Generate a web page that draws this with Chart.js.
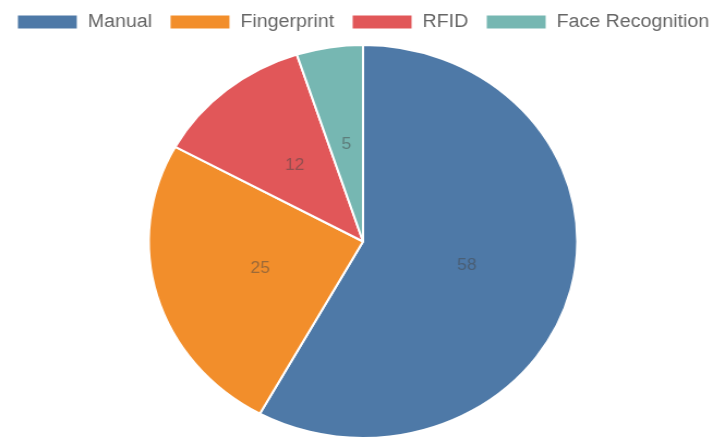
<!DOCTYPE html>
<html>
<head>
<meta charset="utf-8">
<script src="https://cdn.jsdelivr.net/npm/chart.js@4"></script>
<style>
  html, body { margin: 0; padding: 0; background: #fff; }
  #myChart { display: block; }
</style>
</head>
<body>
<canvas id="myChart" width="654" height="440" style="width:713px;height:440px"></canvas>
<script>
const methods = ['Manual', 'Fingerprint', 'RFID', 'Face Recognition'];
const shares = [58, 25, 12, 5];
const colors = ['#4e79a7', '#f28e2b', '#e15759', '#76b7b2'];

// nudge the pie a little to the right and the legend a little up
const nudge = {
  id: 'nudge',
  afterLayout(chart) {
    chart.chartArea.left += 6;
    chart.chartArea.right += 6;
    chart.legend.top -= 3;
    chart.legend.bottom -= 3;
  }
};

// values drawn in the middle of each slice
const sliceLabels = {
  id: 'sliceLabels',
  afterDatasetsDraw(chart) {
    const ctx = chart.ctx;
    const meta = chart.getDatasetMeta(0);
    ctx.save();
    ctx.font = '16px "Liberation Sans", Arial, sans-serif';
    ctx.fillStyle = 'rgba(70,70,70,0.5)';
    ctx.textAlign = 'center';
    ctx.textBaseline = 'middle';
    meta.data.forEach((arc, i) => {
      const pos = arc.tooltipPosition();
      ctx.fillText(shares[i], pos.x, pos.y);
    });
    ctx.restore();
  }
};

const ctx = document.getElementById('myChart').getContext('2d');

new Chart(ctx, {
  type: 'pie',
  data: {
    labels: methods,
    datasets: [{
      data: shares,
      backgroundColor: colors,
      borderColor: '#ffffff',
      borderWidth: 2
    }]
  },
  options: {
    responsive: false,
    animation: false,
    layout: { padding: { left: -4, right: -16, bottom: 1 } },
    plugins: {
      legend: {
        position: 'top',
        labels: {
          boxWidth: 56,
          boxHeight: 15,
          padding: 16,
          color: '#666',
          font: { family: '"Liberation Sans", Arial, sans-serif', size: 18 }
        }
      },
      tooltip: { enabled: false }
    }
  },
  plugins: [nudge, sliceLabels]
});
</script>
</body>
</html>
